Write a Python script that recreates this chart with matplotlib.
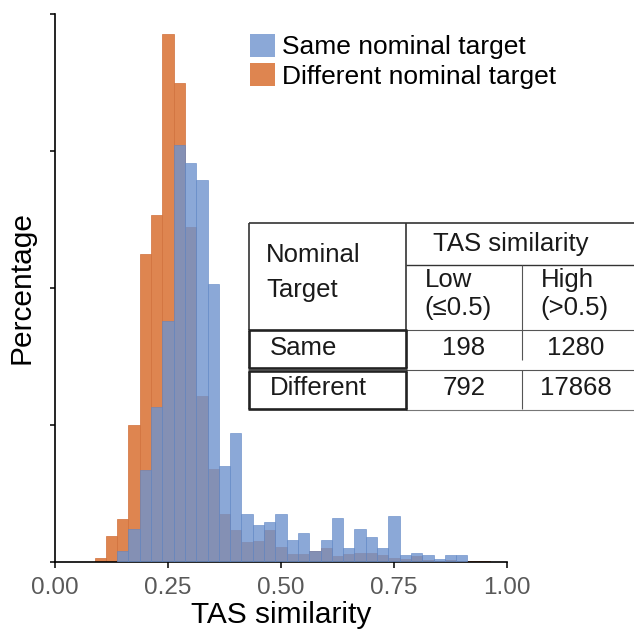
import numpy as np
import matplotlib
matplotlib.use('Agg')
from matplotlib import pyplot as plt
from matplotlib.patches import Patch
from matplotlib.lines import Line2D

plt.rcParams['font.family'] = ['Liberation Sans', 'DejaVu Sans']

# histogram bins (centres), width 0.025
bin_centers = [0.100, 0.125, 0.150, 0.175, 0.200, 0.225, 0.250, 0.275, 0.300,
               0.325, 0.350, 0.375, 0.400, 0.425, 0.450, 0.475, 0.500, 0.525,
               0.550, 0.575, 0.600, 0.625, 0.650, 0.675, 0.700, 0.725, 0.750,
               0.775, 0.800, 0.825, 0.850, 0.875, 0.900, 0.925, 0.950]
bin_width = 0.025

# percentages
pct_different = [0.15, 0.93, 1.57, 4.99, 11.24, 12.66, 19.27, 17.45, 12.23,
                 6.04, 3.39, 1.75, 1.17, 0.73, 0.77, 1.17, 0.53, 0.29,
                 0.29, 0.39, 0.51, 0.22, 0.29, 0.32, 0.32, 0.24, 0.15,
                 0.10, 0.22, 0.07, 0.05, 0.07, 0.04, 0.02, 0.04]
pct_same = [0.0, 0.0, 0.40, 1.20, 3.36, 5.66, 8.80, 15.22, 14.56,
            13.94, 10.15, 3.50, 4.71, 1.75, 1.35, 1.46, 1.75, 0.80,
            1.06, 0.40, 0.80, 1.61, 0.51, 1.20, 0.91, 0.51, 1.68,
            0.24, 0.32, 0.24, 0.10, 0.24, 0.24, 0.0, 0.0]

series_labels = ['Same nominal target', 'Different nominal target']
xticks = [0.0, 0.25, 0.5, 0.75, 1.0]
yticks = [0, 5, 10, 15, 20]

# inset table contents
tbl_rows = ['Same', 'Different']
tbl_low = ['198', '792']
tbl_high = ['1280', '17868']

c_blue = '#6E93CE'
c_orange = '#DE8550'

W, H = 634, 633
fig = plt.figure(figsize=(W / 100, H / 100), dpi=100)
ax = fig.add_axes([55 / W, 71 / H, 452 / W, 548.5 / H])

ax.bar(bin_centers, pct_different, width=bin_width, color=c_orange,
       edgecolor='#D0703A', linewidth=0.5, label=series_labels[1], zorder=2)
ax.bar(bin_centers, pct_same, width=bin_width, color=c_blue, alpha=0.8,
       edgecolor='#5F86C4', linewidth=0.5, label=series_labels[0], zorder=3)

ax.set_xlim(0, 1)
ax.set_ylim(0, 20)
ax.set_xticks(xticks)
ax.set_xticklabels([f'{t:.2f}' for t in xticks])
ax.set_yticks(yticks)
ax.set_yticklabels([])
ax.spines['top'].set_visible(False)
ax.spines['right'].set_visible(False)
ax.spines['left'].set_linewidth(1.2)
ax.spines['bottom'].set_linewidth(1.2)
ax.tick_params(axis='x', direction='out', length=4, width=1.1,
               labelsize=17.5, labelcolor='#595959', pad=7)
ax.tick_params(axis='y', direction='out', length=3.5, width=1.1)
ax.set_xlabel('TAS similarity', fontsize=21.5, labelpad=1)
ax.set_ylabel('Percentage', fontsize=21.5, labelpad=7)

handles = [Patch(facecolor=c_blue, alpha=0.8), Patch(facecolor=c_orange)]
fig.legend(handles, series_labels, loc='upper left',
           bbox_to_anchor=(250 / W, 1 - 34 / H), frameon=False,
           fontsize=19, handlelength=0.95, handleheight=0.95,
           handletextpad=0.28, labelspacing=0.14, borderpad=0,
           borderaxespad=0)


# table drawn in figure pixel coordinates
def fx(x):
    return x / W


def fy(y):
    return 1 - y / H


def hline(y, x0, x1, lw=1.0, color='#333333'):
    fig.add_artist(Line2D([fx(x0), fx(x1)], [fy(y), fy(y)],
                          color=color, lw=lw, solid_capstyle='butt'))


def vline(x, y0, y1, lw=1.0, color='#333333'):
    fig.add_artist(Line2D([fx(x), fx(x)], [fy(y0), fy(y1)],
                          color=color, lw=lw, solid_capstyle='butt'))


# white background behind the table
fig.add_artist(plt.Rectangle((fx(249), fy(409)), fx(634) - fx(249),
                             fy(222.5) - fy(409), transform=fig.transFigure,
                             facecolor='white', edgecolor='none', zorder=1.5))

hline(222.5, 249, 634, lw=1.2)
vline(249, 222.5, 330, lw=1.2)
vline(406, 222.5, 330, lw=1.2)
hline(264.5, 406, 634, lw=1.0)
vline(522, 264.5, 360, lw=0.8, color='#555555')
vline(522, 370, 409, lw=0.8, color='#555555')
hline(329.5, 406, 634, lw=0.8, color='#555555')
hline(369.5, 406, 634, lw=0.8, color='#555555')
hline(409.5, 406, 634, lw=0.8, color='#777777')
# bold boxes round the row names
for top, bot in [(329.5, 368), (370.5, 409)]:
    hline(top, 248, 407, lw=1.9, color='#222222')
    hline(bot, 248, 407, lw=1.9, color='#222222')
    vline(249, top, bot, lw=1.9, color='#222222')
    vline(406, top, bot, lw=1.9, color='#222222')

ts = 18.5
tc = '#1a1a1a'
fig.text(fx(266), fy(255), 'Nominal', fontsize=ts, color=tc, va='center')
fig.text(fx(266), fy(290), 'Target', fontsize=ts, color=tc, va='center')
fig.text(fx(511), fy(244), 'TAS similarity', fontsize=ts, color=tc,
         va='center', ha='center')
fig.text(fx(425), fy(280), 'Low', fontsize=ts, color=tc, va='center')
fig.text(fx(424), fy(308), '(\u22640.5)', fontsize=ts, color=tc, va='center')
fig.text(fx(541), fy(280), 'High', fontsize=ts, color=tc, va='center')
fig.text(fx(540), fy(308), '(>0.5)', fontsize=ts, color=tc, va='center')
for i, y in enumerate([348, 388]):
    fig.text(fx(270), fy(y), tbl_rows[i], fontsize=ts, color=tc, va='center')
    fig.text(fx(464), fy(y), tbl_low[i], fontsize=ts, color=tc,
             va='center', ha='center')
    fig.text(fx(576), fy(y), tbl_high[i], fontsize=ts, color=tc,
             va='center', ha='center')

fig.savefig('out.png', dpi=100)
